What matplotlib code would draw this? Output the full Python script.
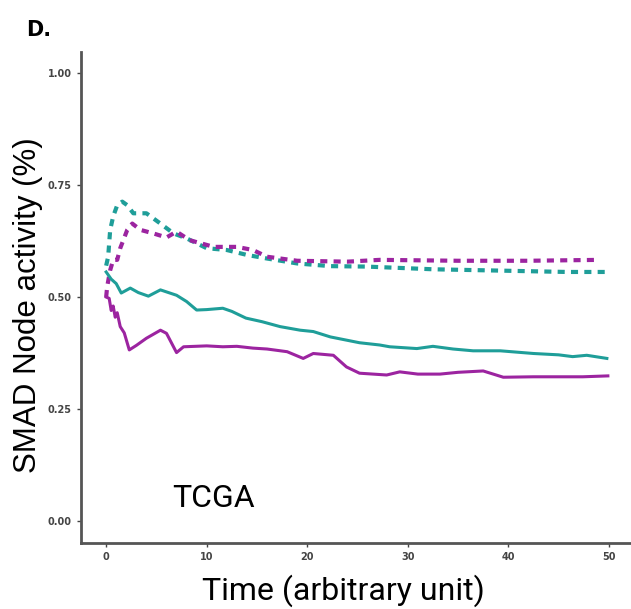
import matplotlib
matplotlib.use('Agg')
import matplotlib.pyplot as plt

# time points and values
t_teal = [0, 0.5, 1.0, 1.5, 2.4, 3.2, 4.2, 5.4, 6.2, 7, 8, 9, 10, 11.6, 12.5, 13.9, 15.5, 17.3, 19.3, 20.6,
          22.3, 25.2, 27.2, 28.2, 30.9, 32.5, 34.5, 36.5, 39.2, 42.5, 45, 46.4, 47.8, 49.8]
teal_solid = [0.556, 0.54, 0.53, 0.509, 0.52, 0.51, 0.502, 0.516, 0.51, 0.504, 0.49, 0.471, 0.472, 0.475,
              0.468, 0.453, 0.445, 0.434, 0.426, 0.423, 0.411, 0.398, 0.393, 0.389, 0.385, 0.39, 0.384,
              0.38, 0.38, 0.374, 0.371, 0.367, 0.37, 0.363]

t_mag = [0, 0.3, 0.5, 0.7, 0.9, 1.1, 1.4, 1.8, 2.3, 3.0, 4.0, 5.4, 6.0, 7.0, 7.7, 10, 11.6, 13, 14.6, 16,
         18, 19.6, 20.6, 22.6, 23.9, 25.2, 27.9, 29.2, 31, 33.2, 35, 37.5, 39.5, 42.5, 45, 47.4, 49.9]
mag_solid = [0.5, 0.497, 0.47, 0.48, 0.455, 0.465, 0.434, 0.42, 0.382, 0.392, 0.408, 0.426, 0.419, 0.376,
             0.389, 0.391, 0.389, 0.39, 0.386, 0.384, 0.378, 0.363, 0.374, 0.37, 0.344, 0.33, 0.326,
             0.333, 0.328, 0.328, 0.332, 0.335, 0.321, 0.322, 0.322, 0.322, 0.324]

t_teal_d = [0, 0.2, 0.4, 0.7, 1.1, 1.6, 2.1, 2.7, 4, 5.4, 6.7, 8, 10, 12, 14, 16, 19, 22.3, 25.9, 32.5,
            39.2, 45.8, 49.9]
teal_dash = [0.57, 0.59, 0.65, 0.68, 0.705, 0.713, 0.705, 0.687, 0.687, 0.664, 0.642, 0.631, 0.609, 0.605,
             0.594, 0.586, 0.575, 0.569, 0.568, 0.562, 0.559, 0.556, 0.556]

t_mag_d = [0, 0.1, 0.4, 0.7, 1.1, 1.4, 2.1, 2.6, 3.4, 4.7, 6, 7, 8.3, 10.7, 13, 14.6, 16, 19, 24, 27.2,
           35, 42, 49.1]
mag_dash = [0.5, 0.523, 0.56, 0.583, 0.583, 0.609, 0.65, 0.664, 0.65, 0.642, 0.633, 0.646, 0.627, 0.612,
            0.612, 0.605, 0.59, 0.581, 0.579, 0.583, 0.581, 0.581, 0.583]

yticks = [0.00, 0.25, 0.50, 0.75, 1.00]
xticks = [0, 10, 20, 30, 40, 50]

teal = '#1f9e99'
magenta = '#9c24a0'

fig = plt.figure(figsize=(6.31, 6.09), dpi=100)
ax = fig.add_axes([0.1284, 0.1084, 0.87, 0.8062])

ax.plot(t_teal_d, teal_dash, color=teal, lw=3.0, dashes=(1.7, 1.5))
ax.plot(t_mag_d, mag_dash, color=magenta, lw=3.0, dashes=(1.7, 1.5))
ax.plot(t_teal, teal_solid, color=teal, lw=2.2)
ax.plot(t_mag, mag_solid, color=magenta, lw=2.2)

ax.set_xlim(-2.5, 52.1)
ax.set_ylim(-0.049, 1.047)
ax.set_xticks(xticks)
ax.set_yticks(yticks)
ax.set_yticklabels(['%.2f' % v for v in yticks])
ax.tick_params(labelsize=7, colors='#444444', length=3, width=1)
for lab in ax.get_xticklabels() + ax.get_yticklabels():
    lab.set_fontweight('bold')
for s in ['top', 'right']:
    ax.spines[s].set_visible(False)
for s in ['left', 'bottom']:
    ax.spines[s].set_color('#555555')
    ax.spines[s].set_linewidth(2)

# axis titles placed in figure coords to match the reference
fig.text(0.5436, 0.0148, 'Time (arbitrary unit)', fontsize=23, family='Roboto',
         ha='center', va='baseline')
fig.text(0.0445, 0.499, 'SMAD Node activity (%)', fontsize=22.5, family='Liberation Sans',
         rotation=90, ha='center', va='center')
ax.text(6.56, 0.031, 'TCGA', fontsize=23, family='Roboto', va='baseline')
fig.text(0.0412, 1 - 36 / 609, 'D.', fontsize=15, fontweight='bold', family='DejaVu Sans',
         va='baseline')

fig.savefig('out.png', dpi=100)
